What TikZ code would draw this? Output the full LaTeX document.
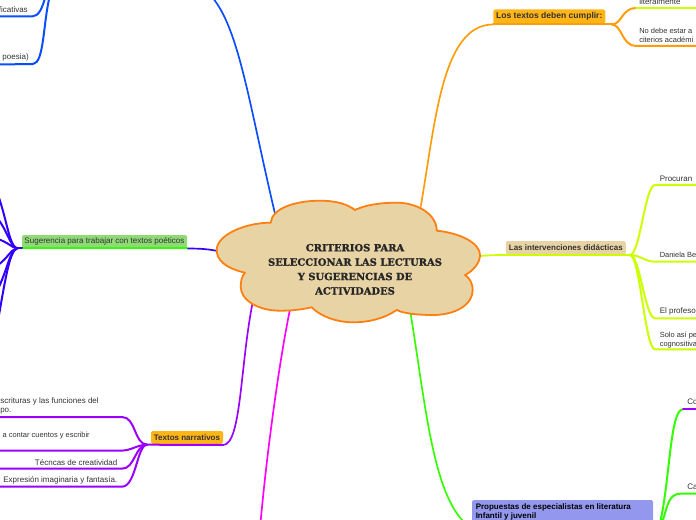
\documentclass[tikz,border=0pt]{standalone}
\usepackage{fontspec}
\setmainfont{Liberation Sans}
\newfontfamily\cloudfont[BoldFeatures={FakeBold=1.2}]{DejaVu Serif}
\definecolor{cBlue}{HTML}{0A4DFF}
\definecolor{cIndigo}{HTML}{3300FF}
\definecolor{cPurple}{HTML}{9900FF}
\definecolor{cMagenta}{HTML}{FF00FF}
\definecolor{cGreen}{HTML}{33FF00}
\definecolor{cLime}{HTML}{CCFF00}
\definecolor{cOrange}{HTML}{FF9C0A}
\definecolor{cCloudLine}{HTML}{FF8010}
\definecolor{cTan}{HTML}{E8D3A5}
\definecolor{cAmber}{HTML}{FFB516}
\definecolor{cLeaf}{HTML}{8FD977}
\definecolor{cPeri}{HTML}{9398EE}
\definecolor{cText}{HTML}{333333}
\tikzset{
  edge/.style={line width=1.5pt,line cap=round,line join=round},
  main/.style={edge,line width=1.25pt},
  box/.style={rounded corners=1.2pt,inner sep=0pt,font=\fontsize{6pt}{7pt}\selectfont\bfseries,text=cText},
  leaf/.style={inner sep=0pt,font=\fontsize{6pt}{6.75pt}\selectfont,text=cText,align=left},
  leafedge/.style={leaf,font=\fontsize{5.6pt}{6.75pt}\selectfont},
}
\begin{document}
\begin{tikzpicture}[x=0.75pt,y=-0.75pt]
\clip (0,0) rectangle (696,520);
\fill[white] (0,0) rectangle (696,520);
% hub points on the cloud
\coordinate (hBlue) at (277,222);
\coordinate (hOrange) at (419,216);
\coordinate (hLime) at (476,256.5);
\coordinate (hGreen) at (410,310);
\coordinate (hMagenta) at (291,305);
\coordinate (hPurple) at (254,296);
\coordinate (hIndigo) at (222,252);
% free ends
\coordinate (blueOff) at (212,-3);
\coordinate (magOff) at (260.5,523);
\coordinate (bA) at (-3,16.5);
\coordinate (bB) at (-3,64.5);
\coordinate (bAup) at (45.5,-3);
\coordinate (bBup) at (49.5,-3);
% boxes
\node[box,fill=cLeaf,minimum width=123.75pt,minimum height=9.8pt,text=black!80,font=\fontsize{6.05pt}{7pt}\selectfont] (sug) at (104.5,241.6) {Sugerencia para trabajar con textos poéticos};
\node[box,fill=cAmber,minimum width=54pt,minimum height=9.6pt] (nar) at (187,437.4) {Textos narrativos};
\node[box,fill=cAmber,minimum width=84pt,minimum height=10.5pt,font=\fontsize{6.4pt}{7pt}\selectfont\bfseries] (cum) at (549.3,16.5) {Los textos deben cumplir:};
\node[box,fill=cTan,minimum width=90pt,minimum height=10pt] (int) at (565.8,247.7) {Las intervenciones didácticas};
\path[box,fill=cPeri] (472,500) rectangle (653,530);
\node[inner sep=0pt,anchor=north west,align=left,font=\fontsize{6pt}{6.75pt}\selectfont\bfseries,text=black] (pro) at (475.5,503.2) {Propuestas de especialistas en literatura\\Infantil y juvenil};
\coordinate (proFan) at (660,523);
% main edges
\draw[main,cBlue] (hBlue) .. controls (250,110) and (240,30) .. (blueOff);
\draw[main,cOrange] (hOrange) .. controls (435,130) and (440,24.5) .. (cum.south west |- 0,24.5);
\draw[main,cLime] (hLime) .. controls (490,255) and (495,255) .. (506,255) -- (632,255);
\draw[main,cGreen] (hGreen) .. controls (425,400) and (432,490) .. (464,522);
\draw[main,cMagenta] (hMagenta) .. controls (282,345) and (268,440) .. (magOff);
\draw[main,cPurple] (hPurple) .. controls (240,360) and (242,445) .. (223,445);
\draw[main,cIndigo] (hIndigo) .. controls (210,249) and (200,248.5) .. (187,248.5);
% underlines
\draw[edge,cGreen] (22,248.5) -- (187,248.5);
\draw[edge,cPurple] (223,445) -- (147,444.7);
\draw[edge,cOrange] (493,24.5) -- (612,24.5);
% blue leaves
\draw[edge,cBlue] (bA) -- (32,16.5) .. controls (39,16.5) and (42,8) .. (bAup);
\draw[edge,cBlue] (bB) -- (33,64) .. controls (44,63) and (43,25) .. (bBup);
\node[leaf,anchor=east] (t1) at (28,9.5) {ficativas};
\node[leaf,anchor=east] (t2) at (29,57.5) {poesia)};
% indigo fan
\coordinate (sugFan) at (17,248.5);
\draw[edge,cIndigo] (22,248.5) -- (sugFan);
\coordinate (ia) at (-2,195);
\coordinate (ib) at (-2,219);
\coordinate (ic) at (-2,239);
\coordinate (id) at (-2,265);
\coordinate (ie) at (-2,289);
\coordinate (if) at (-1,315);
\draw[edge,cIndigo] (sugFan) .. controls (9,245) and (7,220) .. (ia);
\draw[edge,cIndigo] (sugFan) .. controls (10,246) and (8,232) .. (ib);
\draw[edge,cIndigo] (sugFan) .. controls (11,247) and (9,243) .. (ic);
\draw[edge,cIndigo] (sugFan) .. controls (11,249) and (8,258) .. (id);
\draw[edge,cIndigo] (sugFan) .. controls (10,250) and (8,268) .. (ie);
\draw[edge,cIndigo] (sugFan) .. controls (10,251) and (6,275) .. (if);
% purple fan
\coordinate (nA) at (-3,417);
\coordinate (nB) at (-3,450.7);
\coordinate (nC) at (-3,468.7);
\coordinate (nD) at (-3,486.7);
\draw[edge,cPurple] (147,444.7) .. controls (134,444) and (136,417) .. (122,417) -- (nA);
\draw[edge,cPurple] (147,444.7) .. controls (136,445) and (132,450.7) .. (120,450.7) -- (nB);
\draw[edge,cPurple] (147,444.7) .. controls (135,445) and (135,468.7) .. (122,468.7) -- (nC);
\draw[edge,cPurple] (147,444.7) .. controls (137,445) and (136,486.7) .. (122,486.7) -- (nD);
\node[leaf,anchor=east] (t3) at (99,401.7) {scrituras y las funciones del};
\node[leaf,anchor=west] (t3b) at (0,410.7) {po.};
\node[leafedge,anchor=east] (t4) at (90,435.5) {a contar cuentos y escribir};
\node[leaf,anchor=east] (t5) at (117.5,462.5) {Técncas de creatividad};
\node[leaf,anchor=east] (t6) at (117.5,480.8) {Expresión imaginaria y fantasía.};
% orange leaves
\coordinate (oA) at (699,8);
\coordinate (oB) at (699,46);
\draw[edge,cOrange] (612,24.5) .. controls (622,24) and (622,8) .. (636,8);
\draw[edge,cLime] (636,8) -- (oA);
\draw[edge,cOrange] (612,24.5) .. controls (622,25) and (622,46) .. (636,46) -- (oB);
\node[leaf,anchor=west] (t7) at (639,1.5) {literalmente};
\node[leafedge,anchor=north west] (t8) at (639,27.7) {No debe estar a\\citerios académi};
% lime fan
\foreach \n/\yy/\ca/\cb in {a/185/640/645,b/261.7/640/645,c/318.3/640/645,d/349.3/640/645}{
  \coordinate (l\n) at (699,\yy);
  \draw[edge,cLime] (630,255) .. controls (\ca,255) and (\cb,\yy) .. (655,\yy) -- (l\n);
}
\node[leaf,anchor=west] (t9) at (659.5,178.6) {Procuran};
\node[leafedge,anchor=west] (t10) at (659.5,255.3) {Daniela Be};
\node[leaf,anchor=west] (t11) at (659.5,311.8) {El profeso};
\node[leafedge,anchor=north west] (t12) at (659.5,331.7) {Solo así pe\\cognositiva};
% green fan
\coordinate (gA) at (699,409.3);
\coordinate (gB) at (699,493.5);
\coordinate (proFanB) at (662,523);
\draw[edge,cGreen] (proFan) .. controls (670,480) and (670,409.3) .. (683,409.3);
\draw[edge,cPurple] (683,409.3) -- (gA);
\draw[edge,cGreen] (proFanB) .. controls (668,505) and (668,493.5) .. (682,493.5) -- (gB);
\node[leaf,anchor=west] (t13) at (687,402) {Co};
\node[leaf,anchor=west] (t14) at (687,486.5) {Ca};
% cloud
\path[fill=cTan,draw=cCloudLine,line width=1.35pt,line join=round]
 (270.7,222.7) .. controls (272,208) and (296,200.7) .. (320,200.7)
 .. controls (336,200.7) and (347,204) .. (355,210)
 .. controls (365,205) and (380,202.7) .. (396.7,202.7)
 .. controls (418,202.7) and (437,215) .. (436.7,230.7)
 .. controls (460,233) and (480,243) .. (480,255)
 .. controls (480,263) and (473,271) .. (465,275)
 .. controls (470,278) and (472.7,284) .. (472.7,290)
 .. controls (472.7,305) and (455,315) .. (433,315)
 .. controls (420,315) and (405,314) .. (396.7,310)
 .. controls (385,318) and (370,322.3) .. (353.3,322.3)
 .. controls (336,322.3) and (320,316) .. (311.7,307.3)
 .. controls (302,309.5) and (292,310.7) .. (280,310.7)
 .. controls (258,310.7) and (240.7,300) .. (240.7,286.7)
 .. controls (240.7,281) and (242,276) .. (245,272.7)
 .. controls (225,268) and (216.7,260) .. (216.7,250)
 .. controls (216.7,235) and (245,222.7) .. (270.7,222.7) -- cycle;
\node[inner sep=0pt,align=center,text=black!85,font=\cloudfont\bfseries\fontsize{7.45pt}{10.8pt}\selectfont] (hub) at (355,269.3) {CRITERIOS PARA\\SELECCIONAR LAS LECTURAS\\Y SUGERENCIAS DE\\ACTIVIDADES};
\end{tikzpicture}
\end{document}
